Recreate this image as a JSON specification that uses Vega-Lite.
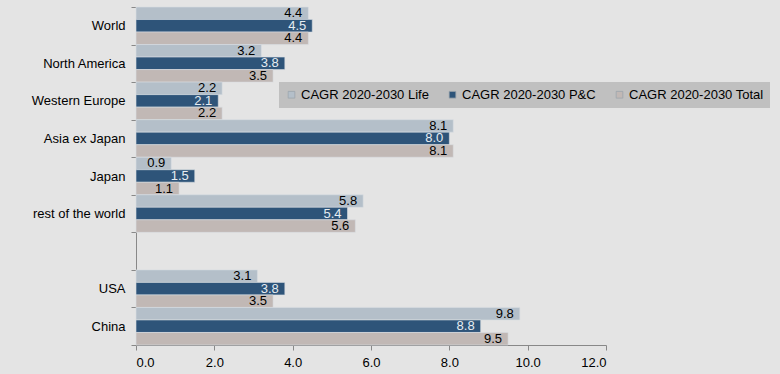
{
  "$schema": "https://vega.github.io/schema/vega-lite/v6.json",
  "width": 470,
  "height": 338,
  "autosize": {"type": "none"},
  "padding": {"left": 136, "top": 7, "right": 174, "bottom": 29},
  "background": "#e4e4e4",
  "config": {"view": {"stroke": null}, "font": "Liberation Sans"},
  "data": {"values": [
    {"cat": "World", "s": "CAGR 2020-2030 Life", "v": 4.4},
    {"cat": "World", "s": "CAGR 2020-2030 P&C", "v": 4.5},
    {"cat": "World", "s": "CAGR 2020-2030 Total", "v": 4.4},
    {"cat": "North America", "s": "CAGR 2020-2030 Life", "v": 3.2},
    {"cat": "North America", "s": "CAGR 2020-2030 P&C", "v": 3.8},
    {"cat": "North America", "s": "CAGR 2020-2030 Total", "v": 3.5},
    {"cat": "Western Europe", "s": "CAGR 2020-2030 Life", "v": 2.2},
    {"cat": "Western Europe", "s": "CAGR 2020-2030 P&C", "v": 2.1},
    {"cat": "Western Europe", "s": "CAGR 2020-2030 Total", "v": 2.2},
    {"cat": "Asia ex Japan", "s": "CAGR 2020-2030 Life", "v": 8.1},
    {"cat": "Asia ex Japan", "s": "CAGR 2020-2030 P&C", "v": 8.0},
    {"cat": "Asia ex Japan", "s": "CAGR 2020-2030 Total", "v": 8.1},
    {"cat": "Japan", "s": "CAGR 2020-2030 Life", "v": 0.9},
    {"cat": "Japan", "s": "CAGR 2020-2030 P&C", "v": 1.5},
    {"cat": "Japan", "s": "CAGR 2020-2030 Total", "v": 1.1},
    {"cat": "rest of the world", "s": "CAGR 2020-2030 Life", "v": 5.8},
    {"cat": "rest of the world", "s": "CAGR 2020-2030 P&C", "v": 5.4},
    {"cat": "rest of the world", "s": "CAGR 2020-2030 Total", "v": 5.6},
    {"cat": "USA", "s": "CAGR 2020-2030 Life", "v": 3.1},
    {"cat": "USA", "s": "CAGR 2020-2030 P&C", "v": 3.8},
    {"cat": "USA", "s": "CAGR 2020-2030 Total", "v": 3.5},
    {"cat": "China", "s": "CAGR 2020-2030 Life", "v": 9.8},
    {"cat": "China", "s": "CAGR 2020-2030 P&C", "v": 8.8},
    {"cat": "China", "s": "CAGR 2020-2030 Total", "v": 9.5}
  ]},
  "encoding": {
    "y": {
      "field": "cat", "type": "nominal", "title": null,
      "scale": {"domain": ["World", "North America", "Western Europe", "Asia ex Japan", "Japan", "rest of the world", " ", "USA", "China"], "paddingInner": 0, "paddingOuter": 0},
      "axis": {"domainColor": "#888888", "tickColor": "#888888", "tickBand": "extent", "tickSize": 5, "labelFontSize": 13, "labelColor": "#000000", "labelPadding": 6}
    },
    "yOffset": {"field": "s", "type": "nominal", "scale": {"paddingInner": 0, "paddingOuter": 0, "domain": ["CAGR 2020-2030 Life", "CAGR 2020-2030 P&C", "CAGR 2020-2030 Total"]}},
    "x": {
      "field": "v", "type": "quantitative", "title": null,
      "scale": {"domain": [0, 12], "nice": false},
      "axis": {"values": [0, 2, 4, 6, 8, 10, 12], "format": ".1f", "grid": false, "domainColor": "#888888", "tickColor": "#888888", "tickSize": 5, "labelFontSize": 13, "labelColor": "#000000", "labelPadding": 6}
    }
  },
  "layer": [
    {
      "mark": {"type": "bar", "stroke": "#d8dde2", "strokeWidth": 0.6},
      "encoding": {
        "color": {
          "field": "s", "type": "nominal",
          "scale": {"domain": ["CAGR 2020-2030 Life", "CAGR 2020-2030 P&C", "CAGR 2020-2030 Total"], "range": ["#b4bfc9", "#2e5479", "#c1b8b5"]},
          "legend": {
            "title": null, "orient": "none", "legendX": 143, "legendY": 75, "direction": "horizontal",
            "fillColor": "#c0c0c0", "padding": 6, "symbolType": "square", "symbolSize": 45,
            "symbolStrokeWidth": 0.8, "symbolStrokeColor": "#9ca4ac", "labelFontSize": 13, "labelColor": "#000000", "columnPadding": 17, "labelOffset": 3
          }
        }
      }
    },
    {
      "mark": {"type": "text", "align": "right", "baseline": "middle", "dx": -6, "fontSize": 13},
      "encoding": {
        "text": {"field": "v", "type": "quantitative", "format": ".1f"},
        "color": {"condition": {"test": "datum.s === 'CAGR 2020-2030 P&C'", "value": "#e6ecf2"}, "value": "#000000"}
      }
    }
  ]
}
